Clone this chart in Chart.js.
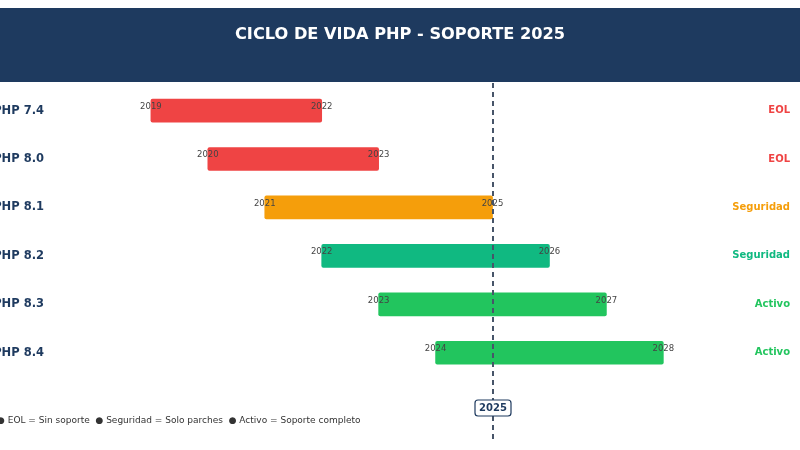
<!DOCTYPE html>
<html>
<head>
<meta charset="utf-8">
<script src="https://cdn.jsdelivr.net/npm/chart.js@4/dist/chart.umd.min.js"></script>
<style>
  html, body { margin: 0; padding: 0; background: #fff; }
  #wrap { width: 800px; height: 450px; }
</style>
</head>
<body>
<div id="wrap"><canvas id="lifeCycle"></canvas></div>
<script>
var versions = ['PHP 7.4', 'PHP 8.0', 'PHP 8.1', 'PHP 8.2', 'PHP 8.3', 'PHP 8.4'];
var startYears = [2019, 2020, 2021, 2022, 2023, 2024];
var endYears = [2022, 2023, 2025, 2026, 2027, 2028];
var statusLabels = ['EOL', 'EOL', 'Seguridad', 'Seguridad', 'Activo', 'Activo'];
var barColors = ['#ef4444', '#ef4444', '#f59e0b', '#10b981', '#22c55e', '#22c55e'];
var currentYear = 2025;
var legendText = '\u25CF EOL = Sin soporte  \u25CF Seguridad = Solo parches  \u25CF Activo = Soporte completo';

var ranges = [];
for (var i = 0; i < versions.length; i++) {
	ranges[i] = [startYears[i], endYears[i]];
}

var FONT = "'DejaVu Sans', sans-serif";
var NAVY = '#1e3a5f';

var decorPlugin = {
	id: 'decor',
	beforeDraw: function(chart) {
		var ctx = chart.ctx;
		ctx.save();
		ctx.fillStyle = NAVY;
		ctx.fillRect(0, 8, chart.width, 74);
		ctx.restore();
	},
	afterDatasetsDraw: function(chart) {
		var ctx = chart.ctx;
		var x = chart.scales.x;
		var y = chart.scales.y;
		ctx.save();

		// version labels and status labels
		for (var i = 0; i < versions.length; i++) {
			var cy = y.getPixelForValue(i);
			ctx.textBaseline = 'middle';
			ctx.font = 'bold 11.5px ' + FONT;
			ctx.fillStyle = NAVY;
			ctx.textAlign = 'right';
			ctx.fillText(versions[i], 44, cy);

			ctx.font = 'bold 10px ' + FONT;
			ctx.fillStyle = barColors[i];
			ctx.fillText(statusLabels[i], 790, cy);

			ctx.font = '8.5px ' + FONT;
			ctx.fillStyle = '#444';
			ctx.textAlign = 'center';
			ctx.fillText(String(startYears[i]), x.getPixelForValue(startYears[i]), cy - 4);
			ctx.fillText(String(endYears[i]), x.getPixelForValue(endYears[i]), cy - 4);
		}

		// current year line
		var lx = Math.round(x.getPixelForValue(currentYear));
		ctx.strokeStyle = '#475569';
		ctx.lineWidth = 2;
		ctx.setLineDash([5, 4]);
		ctx.beginPath();
		ctx.moveTo(lx, 83);
		ctx.lineTo(lx, 442);
		ctx.stroke();
		ctx.setLineDash([]);

		// year box
		ctx.fillStyle = '#fff';
		ctx.strokeStyle = NAVY;
		ctx.lineWidth = 1.2;
		ctx.beginPath();
		ctx.roundRect(lx - 18, 400, 36, 16, 3);
		ctx.fill();
		ctx.stroke();
		ctx.fillStyle = NAVY;
		ctx.font = 'bold 10px ' + FONT;
		ctx.textAlign = 'center';
		ctx.textBaseline = 'middle';
		ctx.fillText(String(currentYear), lx, 408);

		// legend line
		ctx.fillStyle = '#333';
		ctx.font = '9px ' + FONT;
		ctx.textAlign = 'left';
		ctx.fillText(legendText, -3, 421);

		ctx.restore();
	}
};

new Chart(document.getElementById('lifeCycle').getContext('2d'), {
	type: 'bar',
	data: {
		labels: versions,
		datasets: [{
			label: 'Soporte',
			data: ranges,
			backgroundColor: barColors,
			borderWidth: 0,
			borderRadius: 2,
			borderSkipped: false,
			barThickness: 23
		}]
	},
	options: {
		indexAxis: 'y',
		responsive: true,
		maintainAspectRatio: false,
		animation: false,
		layout: { padding: { left: 0, right: 0, top: 0, bottom: 73 } },
		scales: {
			x: { display: false, min: 2016.35, max: 2030.4 },
			y: { display: false }
		},
		plugins: {
			legend: { display: false },
			tooltip: { enabled: false },
			title: {
				display: true,
				text: 'CICLO DE VIDA PHP - SOPORTE 2025',
				color: '#ffffff',
				font: { family: FONT, size: 16.2, weight: 'bold' },
				padding: { top: 25.4, bottom: 41.5 }
			}
		}
	},
	plugins: [decorPlugin]
});
</script>
</body>
</html>
